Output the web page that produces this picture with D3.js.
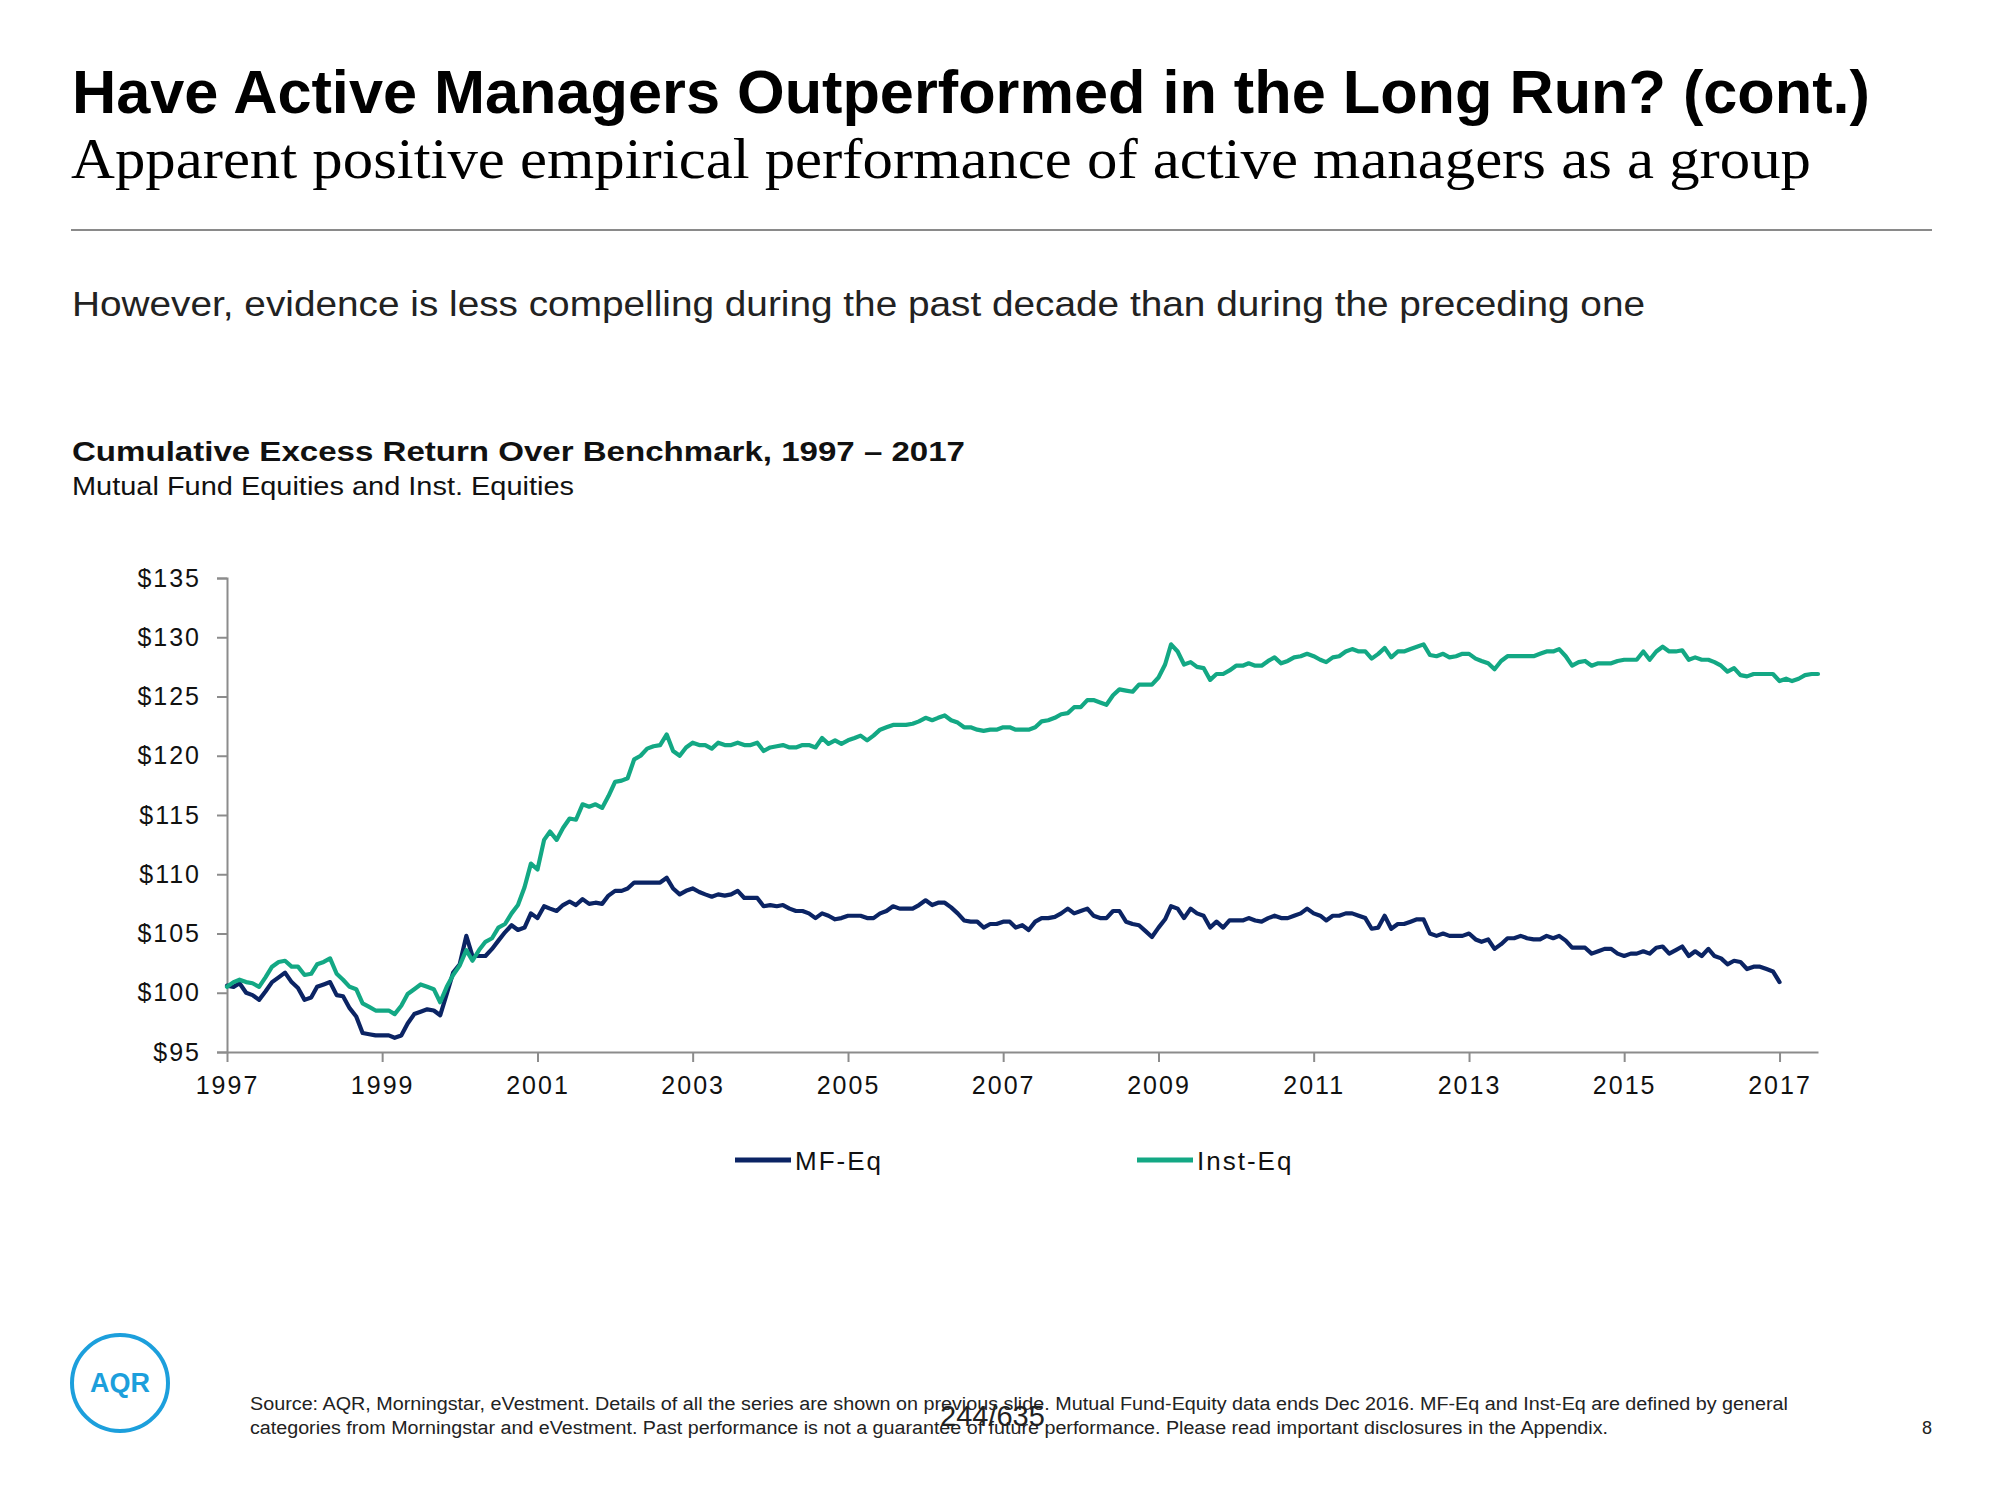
<!DOCTYPE html>
<html>
<head>
<meta charset="utf-8">
<script src="https://cdn.jsdelivr.net/npm/d3@7"></script>
<style>
  html, body { margin: 0; padding: 0; background: #fff; }
  svg { display: block; }
</style>
</head>
<body>
<svg id="chart" width="2000" height="1500"></svg>
<script>
// ---------------- DATA ----------------
const startYear = 1997;            // first monthly observation: Jan 1997
const seriesNames = ["MF-Eq", "Inst-Eq"];
const yTicks = [95, 100, 105, 110, 115, 120, 125, 130, 135];
const xTickYears = [1997, 1999, 2001, 2003, 2005, 2007, 2009, 2011, 2013, 2015, 2017];

// Monthly cumulative value of $100, MF-Eq (Jan 1997 – Jan 2017)
const mfEq = [
  100.6, 100.5, 100.8, 100.0, 99.8, 99.4, 100.1, 100.9, 101.3, 101.7,
  100.9, 100.4, 99.4, 99.6, 100.5, 100.7, 100.9, 99.8, 99.7, 98.7,
  98.0, 96.6, 96.5, 96.4, 96.4, 96.4, 96.2, 96.4, 97.4, 98.2,
  98.4, 98.6, 98.5, 98.1, 99.9, 101.7, 102.4, 104.8, 103.1, 103.1,
  103.1, 103.7, 104.4, 105.1, 105.7, 105.3, 105.5, 106.7, 106.3, 107.3,
  107.1, 106.9, 107.4, 107.7, 107.4, 107.9, 107.5, 107.6, 107.5, 108.2,
  108.6,
  108.6, 108.8, 109.3, 109.3, 109.3, 109.3, 109.3, 109.7, 108.8, 108.3,
  108.6, 108.8, 108.5, 108.3, 108.1, 108.3, 108.2, 108.3, 108.6, 108.0,
  108.0, 108.0, 107.3, 107.4, 107.3, 107.4, 107.1, 106.9, 106.9, 106.7,
  106.3, 106.7, 106.5, 106.2, 106.3, 106.5, 106.5, 106.5, 106.3, 106.3,
  106.7, 106.9, 107.3, 107.1, 107.1, 107.1, 107.4, 107.8, 107.4, 107.6,
  107.6, 107.2, 106.7, 106.1, 106.0, 106.0, 105.5, 105.8, 105.8, 106.0,
  106.0, 105.5, 105.7, 105.3, 106.0, 106.3, 106.3, 106.4, 106.7, 107.1,
  106.7, 106.9, 107.1, 106.5, 106.3, 106.3, 106.9, 106.9, 106.0, 105.8,
  105.7, 105.2, 104.7, 105.5, 106.2, 107.3, 107.1, 106.3, 107.1, 106.7,
  106.5, 105.5, 106.0, 105.5, 106.1, 106.1, 106.1, 106.3, 106.1, 106.0,
  106.3, 106.5, 106.3, 106.3, 106.5, 106.7, 107.1, 106.7, 106.5, 106.1,
  106.5, 106.5, 106.7, 106.7, 106.5, 106.3, 105.4, 105.5, 106.5, 105.4,
  105.8, 105.8, 106.0, 106.2, 106.2, 105.0, 104.8, 105.0, 104.8, 104.8,
  104.8, 105.0, 104.5, 104.3, 104.5, 103.7, 104.1, 104.6, 104.6, 104.8,
  104.6, 104.5, 104.5, 104.8, 104.6, 104.8, 104.4, 103.8, 103.8, 103.8,
  103.3, 103.5, 103.7, 103.7, 103.3, 103.1, 103.3, 103.3, 103.5, 103.3,
  103.8, 103.9, 103.3, 103.6, 103.9, 103.1, 103.5, 103.1, 103.7, 103.1,
  102.9, 102.4, 102.7, 102.6, 102.0, 102.2, 102.2, 102.0, 101.8, 100.9
];

// Monthly cumulative value of $100, Inst-Eq (Jan 1997 – Jul 2017)
const instEq = [
  100.5, 100.9, 101.1, 100.9, 100.8, 100.5, 101.3, 102.2, 102.6, 102.7,
  102.2, 102.2, 101.5, 101.6, 102.4, 102.6, 102.9, 101.6, 101.1, 100.5,
  100.3, 99.1, 98.8, 98.5, 98.5, 98.5, 98.2, 98.9, 99.9, 100.3,
  100.7, 100.5, 100.3, 99.2, 100.5, 101.5, 102.3, 103.6, 102.7, 103.6,
  104.3, 104.6, 105.5, 105.8, 106.7, 107.4, 108.9, 110.9, 110.4, 112.9,
  113.6, 112.9, 113.9, 114.7, 114.6, 115.9, 115.7, 115.9, 115.6, 116.6,
  117.8,
  117.9, 118.1, 119.7, 120.0, 120.6, 120.8, 120.9, 121.8, 120.4, 120.0,
  120.7, 121.1, 120.9, 120.9, 120.6, 121.1, 120.9, 120.9, 121.1, 120.9,
  120.9, 121.1, 120.4, 120.7, 120.8, 120.9, 120.7, 120.7, 120.9, 120.9,
  120.7, 121.5, 121.0, 121.3, 121.0, 121.3, 121.5, 121.7, 121.3, 121.7,
  122.2, 122.4, 122.6, 122.6, 122.6, 122.7, 122.9, 123.2, 123.0, 123.2,
  123.4, 123.0, 122.8, 122.4, 122.4, 122.2, 122.1, 122.2, 122.2, 122.4,
  122.4, 122.2, 122.2, 122.2, 122.4, 122.9, 123.0, 123.2, 123.5, 123.6,
  124.1, 124.1, 124.7, 124.7, 124.5, 124.3, 125.1, 125.6, 125.5, 125.4,
  126.0, 126.0, 126.0, 126.6, 127.7, 129.4, 128.8, 127.7, 127.9, 127.5,
  127.4, 126.4, 126.9, 126.9, 127.2, 127.6, 127.6, 127.8, 127.6, 127.6,
  128.0, 128.3, 127.8, 128.0, 128.3, 128.4, 128.6, 128.4, 128.1, 127.9,
  128.3, 128.4, 128.8, 129.0, 128.8, 128.8, 128.2, 128.6, 129.1, 128.3,
  128.8, 128.8, 129.0, 129.2, 129.4, 128.5, 128.4, 128.6, 128.3, 128.4,
  128.6, 128.6, 128.2, 128.0, 127.8, 127.3, 128.0, 128.4, 128.4, 128.4,
  128.4, 128.4, 128.6, 128.8, 128.8, 129.0, 128.4, 127.6, 127.9, 128.0,
  127.6, 127.8, 127.8, 127.8, 128.0, 128.1, 128.1, 128.1, 128.8, 128.1,
  128.8, 129.2, 128.8, 128.8, 128.9, 128.1, 128.3, 128.1, 128.1, 127.9,
  127.6, 127.1, 127.4, 126.8, 126.7, 126.9, 126.9, 126.9, 126.9, 126.3,
  126.5, 126.3, 126.5, 126.8, 126.9, 126.9
];

// ---------------- STYLE ----------------
const colors = { "MF-Eq": "#0b2464", "Inst-Eq": "#13a884" };
const SANS = "'Liberation Sans', Arial, sans-serif";
const NARROW = "'Liberation Sans Narrow', 'Liberation Sans', Arial, sans-serif";
const SERIF = "'Liberation Serif', 'Times New Roman', serif";
const axisColor = "#8c8c8c";

const svg = d3.select("#chart");
svg.append("rect").attr("width", 2000).attr("height", 1500).attr("fill", "#fff");

// ---------------- HEADER TEXT ----------------
svg.append("text").attr("x", 72).attr("y", 113)
  .attr("font-family", NARROW).attr("font-weight", "bold").attr("font-size", 62)
  .attr("textLength", 1798).attr("lengthAdjust", "spacingAndGlyphs")
  .attr("fill", "#000")
  .text("Have Active Managers Outperformed in the Long Run? (cont.)");

svg.append("text").attr("x", 71).attr("y", 178)
  .attr("font-family", SERIF).attr("font-size", 56)
  .attr("textLength", 1740).attr("lengthAdjust", "spacingAndGlyphs")
  .attr("fill", "#000")
  .text("Apparent positive empirical performance of active managers as a group");

svg.append("line").attr("x1", 71).attr("x2", 1932).attr("y1", 230).attr("y2", 230)
  .attr("stroke", "#8a8a8a").attr("stroke-width", 2);

svg.append("text").attr("x", 72).attr("y", 316)
  .attr("font-family", NARROW).attr("font-size", 35)
  .attr("textLength", 1573).attr("lengthAdjust", "spacingAndGlyphs")
  .attr("fill", "#222")
  .text("However, evidence is less compelling during the past decade than during the preceding one");

svg.append("text").attr("x", 72).attr("y", 461)
  .attr("font-family", NARROW).attr("font-weight", "bold").attr("font-size", 28)
  .attr("textLength", 893).attr("lengthAdjust", "spacingAndGlyphs")
  .attr("fill", "#111")
  .text("Cumulative Excess Return Over Benchmark, 1997 \u2013 2017");

svg.append("text").attr("x", 72).attr("y", 495)
  .attr("font-family", NARROW).attr("font-size", 26)
  .attr("textLength", 502).attr("lengthAdjust", "spacingAndGlyphs")
  .attr("fill", "#111")
  .text("Mutual Fund Equities and Inst. Equities");

// ---------------- SCALES ----------------
const monthDate = i => new Date(startYear, i, 1);
const x = d3.scaleTime()
  .domain([new Date(1997, 0, 1), new Date(2017, 6, 1)])
  .range([227, 1818]);
const y = d3.scaleLinear().domain([95, 135]).range([1052, 578]);

// ---------------- AXES ----------------
const yAxis = d3.axisLeft(y).tickValues(yTicks).tickSize(10).tickPadding(16)
  .tickFormat(d => "$" + d);
const gy = svg.append("g").attr("transform", "translate(227,0)").call(yAxis);
gy.select(".domain").attr("stroke", axisColor).attr("stroke-width", 2);
gy.selectAll(".tick line").attr("stroke", axisColor).attr("stroke-width", 2);
gy.selectAll(".tick text").attr("font-family", SANS).attr("font-size", 25)
  .attr("fill", "#111").attr("letter-spacing", 2);

const xAxis = d3.axisBottom(x).tickValues(xTickYears.map(yr => new Date(yr, 0, 1)))
  .tickSize(10).tickSizeOuter(0).tickPadding(14).tickFormat(d3.timeFormat("%Y"));
const gx = svg.append("g").attr("transform", "translate(0,1052)").call(xAxis);
gx.select(".domain").attr("stroke", axisColor).attr("stroke-width", 2);
gx.selectAll(".tick line").attr("stroke", axisColor).attr("stroke-width", 2);
gx.selectAll(".tick text").attr("font-family", SANS).attr("font-size", 25)
  .attr("fill", "#111").attr("letter-spacing", 2);

// ---------------- LINES ----------------
const line = d3.line().x((d, i) => x(monthDate(i))).y(d => y(d)).curve(d3.curveLinear);
const seriesData = { "MF-Eq": mfEq, "Inst-Eq": instEq };
seriesNames.forEach(name => {
  svg.append("path").datum(seriesData[name])
    .attr("fill", "none").attr("stroke", colors[name])
    .attr("stroke-width", 4.2).attr("stroke-linejoin", "round").attr("stroke-linecap", "round")
    .attr("d", line);
});

// ---------------- LEGEND ----------------
const legendPos = { "MF-Eq": 735, "Inst-Eq": 1137 };
seriesNames.forEach(name => {
  const lx = legendPos[name];
  svg.append("line").attr("x1", lx).attr("x2", lx + 56).attr("y1", 1160).attr("y2", 1160)
    .attr("stroke", colors[name]).attr("stroke-width", 5);
  svg.append("text").attr("x", lx + 60).attr("y", 1170)
    .attr("font-family", SANS).attr("font-size", 26).attr("letter-spacing", 2)
    .attr("fill", "#111").text(name);
});

// ---------------- FOOTER ----------------
const logo = svg.append("g").attr("transform", "translate(120,1383)");
logo.append("circle").attr("r", 48).attr("fill", "none").attr("stroke", "#1c9fdc").attr("stroke-width", 4);
logo.append("text").attr("x", 0).attr("y", 9).attr("text-anchor", "middle")
  .attr("font-family", SANS).attr("font-weight", "bold").attr("font-size", 27)
  .attr("fill", "#1c9fdc").text("AQR");

svg.append("text").attr("x", 250).attr("y", 1410)
  .attr("font-family", NARROW).attr("font-size", 18)
  .attr("textLength", 1538).attr("lengthAdjust", "spacingAndGlyphs").attr("fill", "#222")
  .text("Source: AQR, Morningstar, eVestment. Details of all the series are shown on previous slide. Mutual Fund-Equity data ends Dec 2016. MF-Eq and Inst-Eq are defined by general");
svg.append("text").attr("x", 250).attr("y", 1434)
  .attr("font-family", NARROW).attr("font-size", 18)
  .attr("textLength", 1358).attr("lengthAdjust", "spacingAndGlyphs").attr("fill", "#222")
  .text("categories from Morningstar and eVestment. Past performance is not a guarantee of future performance. Please read important disclosures in the Appendix.");
svg.append("text").attr("x", 940).attr("y", 1426)
  .attr("font-family", SANS).attr("font-size", 29).attr("fill", "#222")
  .text("244/635");
svg.append("text").attr("x", 1932).attr("y", 1434).attr("text-anchor", "end")
  .attr("font-family", SANS).attr("font-size", 18).attr("fill", "#222")
  .text("8");
</script>
</body>
</html>
